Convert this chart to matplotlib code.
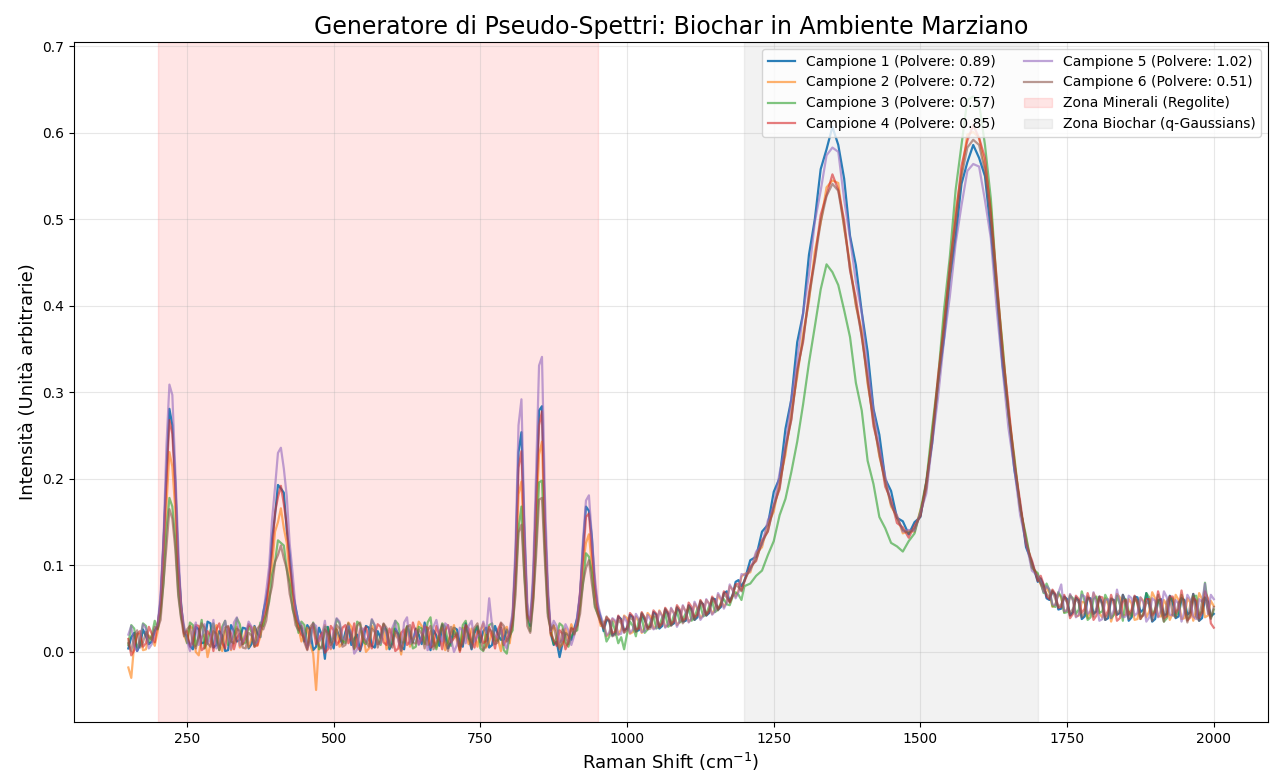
import matplotlib

matplotlib.use("Agg")
import matplotlib.pyplot as plt
import numpy as np

# sampling grid (cm^-1): 5 cm^-1 steps, 10 cm^-1 across the broad D/G bands
WAVENUMBERS = np.concatenate([
    np.arange(150, 1201, 5),
    np.arange(1210, 1691, 10),
    np.arange(1700, 2001, 5),
])

DUST = [0.89, 0.72, 0.57, 0.85, 1.02, 0.51]

CAMPIONE_1 = [
    # 150 - 1200, step 5
    0.004, 0.017, 0.022, 0.001, 0.008, 0.026, 0.018, 0.009, 0.012, 0.024,
    0.030, 0.060, 0.128, 0.208, 0.281, 0.262, 0.198, 0.104, 0.055, 0.022,
    0.018, 0.007, 0.003, 0.029, 0.026, 0.010, 0.011, 0.035, 0.033, 0.005,
    0.008, 0.024, 0.019, 0.001, 0.002, 0.031, 0.024, 0.012, 0.014, 0.028,
    0.027, 0.004, 0.009, 0.030, 0.021, 0.017, 0.046, 0.062, 0.081, 0.131,
    0.158, 0.193, 0.189, 0.184, 0.141, 0.113, 0.069, 0.052, 0.034, 0.027,
    0.012, 0.031, 0.025, 0.002, 0.006, 0.028, 0.019, -0.008, 0.029, 0.014,
    0.004, 0.026, 0.017, 0.009, 0.023, 0.033, 0.008, 0.015, 0.020, 0.001,
    0.013, 0.030, 0.028, 0.007, 0.005, 0.024, 0.016, 0.032, 0.024, 0.003,
    0.010, 0.027, 0.021, 0.006, 0.003, 0.029, 0.018, 0.011, 0.027, 0.020,
    0.009, 0.034, 0.015, 0.002, 0.025, 0.019, 0.007, 0.031, 0.019, 0.004,
    0.012, 0.028, 0.026, 0.010, 0.006, 0.033, 0.017, 0.003, 0.022, 0.029,
    0.011, 0.024, 0.028, 0.005, 0.008, 0.030, 0.020, 0.014, 0.014, 0.026,
    0.018, 0.041, 0.109, 0.231, 0.254, 0.139, 0.044, 0.030, 0.081, 0.175,
    0.279, 0.284, 0.151, 0.066, 0.021, 0.008, 0.012, -0.006, 0.010, 0.022,
    0.019, 0.014, 0.027, 0.039, 0.066, 0.122, 0.168, 0.163, 0.133, 0.075,
    0.051, 0.040, 0.024, 0.037, 0.036, 0.019, 0.022, 0.041, 0.038, 0.025,
    0.027, 0.043, 0.040, 0.024, 0.025, 0.044, 0.037, 0.028, 0.029, 0.046,
    0.043, 0.027, 0.030, 0.049, 0.044, 0.031, 0.033, 0.051, 0.047, 0.035,
    0.036, 0.054, 0.049, 0.037, 0.040, 0.058, 0.055, 0.042, 0.045, 0.062,
    0.061, 0.049, 0.052, 0.068, 0.070, 0.058, 0.066, 0.081, 0.083, 0.076,
    0.082,
    # 1210 - 1690, step 10
    0.106, 0.110, 0.139, 0.147, 0.185, 0.201, 0.258, 0.292, 0.358, 0.391,
    0.459, 0.500, 0.558, 0.581, 0.607, 0.586, 0.547, 0.481, 0.447, 0.393,
    0.347, 0.281, 0.251, 0.200, 0.186, 0.155, 0.151, 0.136, 0.150, 0.156,
    0.196, 0.241, 0.311, 0.361, 0.431, 0.480, 0.541, 0.566, 0.586, 0.571,
    0.550, 0.486, 0.415, 0.331, 0.276, 0.211, 0.170, 0.121, 0.104,
    # 1700 - 2000, step 5
    0.081, 0.085, 0.077, 0.062, 0.060, 0.070, 0.066, 0.049, 0.050, 0.064,
    0.061, 0.042, 0.046, 0.063, 0.059, 0.038, 0.041, 0.062, 0.062, 0.044,
    0.047, 0.064, 0.056, 0.037, 0.039, 0.061, 0.060, 0.043, 0.045, 0.066,
    0.058, 0.036, 0.040, 0.064, 0.063, 0.046, 0.049, 0.068, 0.055, 0.035,
    0.038, 0.059, 0.061, 0.042, 0.044, 0.065, 0.057, 0.039, 0.041, 0.062,
    0.060, 0.043, 0.046, 0.067, 0.054, 0.036, 0.039, 0.063, 0.058, 0.041,
    0.044,
]

CAMPIONE_2 = [
    -0.018, -0.030, 0.009, 0.020, 0.021, 0.002, 0.003, 0.019, 0.016, 0.007,
    0.024, 0.048, 0.109, 0.169, 0.231, 0.214, 0.164, 0.087, 0.049, 0.019,
    0.011, 0.030, 0.027, 0.000, -0.004, 0.017, 0.020, -0.006, 0.009, 0.026,
    0.031, 0.008, 0.001, 0.025, 0.022, 0.002, 0.013, 0.029, 0.005, 0.012,
    0.024, 0.005, 0.016, 0.029, 0.007, 0.018, 0.034, 0.044, 0.079, 0.099,
    0.139, 0.150, 0.166, 0.143, 0.126, 0.086, 0.066, 0.037, 0.028, 0.012,
    0.019, 0.028, 0.008, -0.002, -0.044, 0.011, 0.020, 0.031, 0.014, 0.003,
    0.022, 0.027, 0.006, 0.010, 0.018, 0.034, 0.029, 0.004, 0.009, 0.025,
    0.021, 0.000, 0.004, 0.030, 0.025, 0.009, 0.012, 0.032, 0.003, 0.010,
    0.027, 0.020, 0.015, -0.003, 0.022, 0.029, 0.006, 0.014, 0.019, 0.035,
    0.030, 0.011, 0.008, 0.024, 0.016, 0.005, 0.024, 0.028, 0.002, 0.013,
    0.021, 0.031, 0.013, 0.002, 0.028, 0.020, 0.009, 0.027, 0.018, 0.006,
    0.025, 0.033, 0.005, 0.012, 0.023, 0.018, 0.014, 0.001, 0.026, 0.029,
    0.010, 0.036, 0.088, 0.182, 0.197, 0.113, 0.039, 0.034, 0.063, 0.156,
    0.228, 0.243, 0.128, 0.058, 0.019, 0.030, 0.024, 0.005, 0.009, 0.027,
    0.016, 0.032, 0.021, 0.034, 0.053, 0.101, 0.126, 0.136, 0.100, 0.068,
    0.046, 0.030, 0.035, 0.018, 0.021, 0.038, 0.034, 0.020, 0.026, 0.042,
    0.039, 0.021, 0.023, 0.041, 0.036, 0.022, 0.028, 0.045, 0.041, 0.027,
    0.030, 0.048, 0.042, 0.029, 0.031, 0.050, 0.045, 0.031, 0.035, 0.053,
    0.047, 0.035, 0.038, 0.056, 0.050, 0.039, 0.043, 0.060, 0.056, 0.044,
    0.049, 0.066, 0.060, 0.052, 0.058, 0.076, 0.072, 0.064, 0.071, 0.087,
    0.090,
    0.092, 0.114, 0.121, 0.148, 0.162, 0.197, 0.228, 0.278, 0.318, 0.368,
    0.405, 0.463, 0.496, 0.537, 0.545, 0.542, 0.490, 0.449, 0.400, 0.372,
    0.310, 0.270, 0.226, 0.199, 0.168, 0.157, 0.137, 0.140, 0.139, 0.164,
    0.188, 0.254, 0.311, 0.382, 0.437, 0.509, 0.553, 0.598, 0.601, 0.594,
    0.561, 0.514, 0.423, 0.354, 0.278, 0.226, 0.166, 0.132, 0.098,
    0.089, 0.078, 0.070, 0.074, 0.068, 0.052, 0.055, 0.067, 0.063, 0.046,
    0.049, 0.066, 0.060, 0.041, 0.042, 0.058, 0.057, 0.039, 0.048, 0.068,
    0.061, 0.044, 0.040, 0.062, 0.055, 0.035, 0.046, 0.067, 0.063, 0.042,
    0.043, 0.061, 0.056, 0.037, 0.038, 0.063, 0.059, 0.040, 0.047, 0.069,
    0.062, 0.041, 0.041, 0.060, 0.054, 0.037, 0.045, 0.066, 0.060, 0.038,
    0.039, 0.062, 0.057, 0.036, 0.048, 0.068, 0.061, 0.040, 0.042, 0.059,
    0.053,
]

CAMPIONE_3 = [
    0.008, 0.031, 0.027, 0.004, 0.012, 0.033, 0.030, 0.011, 0.019, 0.036,
    0.026, 0.046, 0.080, 0.141, 0.178, 0.168, 0.129, 0.070, 0.040, 0.027,
    0.010, 0.034, 0.031, 0.007, 0.019, 0.037, 0.004, 0.013, 0.025, 0.033,
    0.014, 0.002, 0.029, 0.036, 0.008, 0.012, 0.020, 0.039, 0.032, 0.009,
    0.011, 0.030, 0.023, 0.006, 0.015, 0.034, 0.030, 0.045, 0.058, 0.089,
    0.104, 0.129, 0.126, 0.123, 0.095, 0.079, 0.049, 0.038, 0.022, 0.035,
    0.031, 0.008, 0.013, 0.034, 0.024, 0.003, 0.006, 0.029, 0.028, 0.011,
    0.017, 0.038, 0.033, 0.013, 0.010, 0.028, 0.021, 0.004, 0.035, 0.032,
    0.012, 0.009, 0.019, 0.037, 0.030, 0.014, 0.008, 0.027, 0.026, 0.005,
    0.015, 0.036, 0.032, 0.011, 0.011, 0.030, 0.023, 0.004, 0.006, 0.029,
    0.027, 0.009, 0.034, 0.040, 0.012, 0.003, 0.020, 0.033, 0.029, 0.010,
    0.007, 0.024, 0.018, 0.002, 0.031, 0.036, 0.016, 0.011, 0.025, 0.030,
    0.004, 0.001, 0.022, 0.031, 0.033, 0.013, 0.013, 0.028, 0.002, -0.002,
    0.019, 0.025, 0.081, 0.143, 0.168, 0.088, 0.040, 0.024, 0.061, 0.124,
    0.196, 0.198, 0.114, 0.045, 0.026, 0.009, 0.017, 0.033, 0.030, 0.011,
    0.006, 0.018, 0.023, 0.025, 0.054, 0.079, 0.114, 0.110, 0.092, 0.052,
    0.044, 0.037, 0.029, 0.012, 0.018, 0.035, 0.024, 0.010, 0.017, 0.003,
    0.021, 0.035, 0.030, 0.018, 0.037, 0.040, 0.022, 0.026, 0.035, 0.041,
    0.027, 0.030, 0.040, 0.044, 0.029, 0.032, 0.043, 0.047, 0.034, 0.037,
    0.045, 0.051, 0.036, 0.040, 0.050, 0.053, 0.041, 0.044, 0.053, 0.058,
    0.046, 0.049, 0.057, 0.061, 0.055, 0.054, 0.064, 0.069, 0.066, 0.060,
    0.076,
    0.079, 0.088, 0.094, 0.112, 0.128, 0.158, 0.177, 0.208, 0.243, 0.286,
    0.334, 0.376, 0.419, 0.448, 0.439, 0.424, 0.395, 0.364, 0.311, 0.279,
    0.221, 0.194, 0.156, 0.143, 0.126, 0.122, 0.116, 0.128, 0.137, 0.163,
    0.197, 0.259, 0.316, 0.394, 0.456, 0.534, 0.586, 0.638, 0.642, 0.634,
    0.586, 0.524, 0.426, 0.354, 0.276, 0.224, 0.166, 0.134, 0.097,
    0.091, 0.080, 0.068, 0.079, 0.071, 0.053, 0.052, 0.069, 0.064, 0.045,
    0.046, 0.065, 0.062, 0.044, 0.049, 0.070, 0.058, 0.037, 0.040, 0.061,
    0.064, 0.045, 0.047, 0.066, 0.059, 0.039, 0.043, 0.065, 0.055, 0.036,
    0.061, 0.047, 0.041, 0.062, 0.057, 0.038, 0.045, 0.068, 0.063, 0.044,
    0.048, 0.060, 0.054, 0.035, 0.039, 0.061, 0.062, 0.041, 0.046, 0.066,
    0.056, 0.037, 0.042, 0.064, 0.065, 0.043, 0.047, 0.080, 0.055, 0.039,
    0.049,
]

CAMPIONE_4 = [
    0.015, -0.004, 0.002, 0.021, 0.024, 0.006, 0.010, 0.029, 0.021, 0.011,
    0.033, 0.055, 0.124, 0.199, 0.268, 0.252, 0.190, 0.101, 0.052, 0.021,
    0.024, 0.006, 0.012, 0.031, 0.030, 0.002, 0.005, 0.024, 0.019, 0.001,
    0.026, 0.033, 0.010, 0.004, 0.029, 0.021, 0.003, 0.016, 0.021, 0.009,
    0.017, 0.032, 0.028, 0.006, 0.008, 0.027, 0.039, 0.051, 0.089, 0.117,
    0.161, 0.179, 0.192, 0.171, 0.147, 0.102, 0.076, 0.043, 0.029, 0.020,
    0.016, 0.003, 0.027, 0.029, 0.009, 0.016, 0.022, -0.001, 0.003, 0.030,
    0.025, 0.008, 0.013, 0.028, 0.031, 0.010, 0.017, 0.033, 0.006, 0.002,
    0.024, 0.029, 0.014, 0.004, 0.020, 0.032, 0.029, 0.011, 0.008, 0.027,
    0.018, 0.001, 0.004, 0.022, 0.026, 0.008, 0.012, 0.034, 0.022, 0.009,
    0.015, 0.029, 0.028, 0.005, 0.007, 0.030, 0.019, 0.003, 0.025, 0.031,
    0.011, 0.016, 0.020, 0.000, 0.016, 0.031, 0.027, 0.012, 0.005, 0.024,
    0.023, 0.010, 0.013, 0.029, 0.018, 0.004, 0.026, 0.033, 0.008, 0.015,
    0.021, 0.039, 0.101, 0.213, 0.232, 0.129, 0.043, 0.036, 0.071, 0.177,
    0.262, 0.278, 0.146, 0.064, 0.022, 0.013, 0.007, 0.025, 0.021, 0.003,
    0.012, 0.027, 0.026, 0.031, 0.070, 0.109, 0.156, 0.160, 0.118, 0.079,
    0.049, 0.034, 0.028, 0.040, 0.037, 0.021, 0.024, 0.042, 0.036, 0.023,
    0.029, 0.045, 0.041, 0.026, 0.027, 0.046, 0.039, 0.027, 0.031, 0.048,
    0.044, 0.029, 0.033, 0.051, 0.046, 0.032, 0.036, 0.054, 0.049, 0.036,
    0.039, 0.057, 0.052, 0.040, 0.043, 0.060, 0.054, 0.043, 0.048, 0.064,
    0.058, 0.050, 0.055, 0.070, 0.066, 0.057, 0.065, 0.078, 0.079, 0.071,
    0.081,
    0.099, 0.105, 0.129, 0.139, 0.170, 0.188, 0.237, 0.268, 0.327, 0.358,
    0.415, 0.454, 0.505, 0.528, 0.552, 0.534, 0.499, 0.441, 0.409, 0.364,
    0.319, 0.261, 0.234, 0.191, 0.176, 0.149, 0.144, 0.132, 0.146, 0.157,
    0.196, 0.246, 0.319, 0.374, 0.446, 0.501, 0.562, 0.591, 0.609, 0.594,
    0.571, 0.506, 0.432, 0.346, 0.286, 0.218, 0.174, 0.124, 0.106,
    0.082, 0.088, 0.078, 0.064, 0.061, 0.072, 0.067, 0.051, 0.052, 0.066,
    0.058, 0.039, 0.044, 0.065, 0.061, 0.045, 0.050, 0.068, 0.057, 0.037,
    0.042, 0.064, 0.063, 0.041, 0.048, 0.066, 0.054, 0.036, 0.039, 0.058,
    0.060, 0.043, 0.049, 0.065, 0.055, 0.038, 0.043, 0.061, 0.061, 0.042,
    0.046, 0.070, 0.058, 0.039, 0.041, 0.064, 0.064, 0.045, 0.050, 0.071,
    0.053, 0.036, 0.040, 0.063, 0.059, 0.039, 0.045, 0.070, 0.062, 0.033,
    0.028,
]

CAMPIONE_5 = [
    0.020, 0.030, 0.006, 0.001, 0.016, 0.032, 0.027, 0.004, 0.009, 0.025,
    0.031, 0.068, 0.131, 0.239, 0.309, 0.297, 0.210, 0.123, 0.051, 0.030,
    0.013, 0.001, 0.022, 0.034, 0.008, 0.016, 0.032, 0.009, 0.016, 0.037,
    0.004, 0.010, 0.025, 0.036, 0.018, 0.003, 0.034, 0.040, 0.007, 0.012,
    0.020, 0.035, 0.029, 0.009, 0.012, 0.030, 0.044, 0.070, 0.099, 0.153,
    0.190, 0.230, 0.236, 0.212, 0.180, 0.125, 0.091, 0.050, 0.036, 0.031,
    0.024, 0.005, 0.011, 0.033, 0.030, 0.012, 0.018, 0.036, 0.007, 0.004,
    0.026, 0.039, 0.035, 0.016, 0.014, 0.030, 0.022, -0.002, 0.003, 0.027,
    0.027, 0.011, 0.019, 0.038, 0.031, 0.009, 0.010, 0.029, 0.021, 0.006,
    0.028, 0.036, 0.013, 0.002, 0.034, 0.040, 0.009, 0.015, 0.024, 0.008,
    0.017, 0.031, 0.002, 0.007, 0.029, 0.037, 0.020, 0.012, 0.033, 0.030,
    0.015, 0.000, 0.008, 0.028, 0.025, 0.010, 0.030, 0.036, 0.012, 0.018,
    0.021, 0.035, 0.022, 0.062, 0.030, 0.019, 0.016, 0.027, 0.010, 0.004,
    0.027, 0.045, 0.124, 0.262, 0.292, 0.150, 0.057, 0.034, 0.094, 0.208,
    0.331, 0.341, 0.180, 0.077, 0.024, 0.036, 0.030, 0.011, 0.014, 0.032,
    0.025, 0.008, 0.019, 0.041, 0.069, 0.130, 0.175, 0.181, 0.133, 0.087,
    0.056, 0.042, 0.032, 0.019, 0.023, 0.039, 0.036, 0.020, 0.021, 0.041,
    0.034, 0.022, 0.026, 0.044, 0.038, 0.023, 0.024, 0.043, 0.037, 0.026,
    0.028, 0.047, 0.041, 0.028, 0.032, 0.051, 0.044, 0.029, 0.036, 0.054,
    0.046, 0.034, 0.039, 0.058, 0.051, 0.037, 0.042, 0.061, 0.055, 0.043,
    0.047, 0.068, 0.062, 0.050, 0.057, 0.078, 0.071, 0.062, 0.069, 0.090,
    0.089,
    0.094, 0.116, 0.124, 0.152, 0.168, 0.207, 0.238, 0.293, 0.337, 0.392,
    0.436, 0.497, 0.533, 0.574, 0.583, 0.578, 0.523, 0.478, 0.428, 0.392,
    0.330, 0.280, 0.236, 0.203, 0.171, 0.158, 0.139, 0.141, 0.140, 0.161,
    0.183, 0.241, 0.294, 0.359, 0.410, 0.472, 0.516, 0.556, 0.564, 0.561,
    0.522, 0.478, 0.396, 0.327, 0.259, 0.212, 0.158, 0.127, 0.094,
    0.088, 0.081, 0.069, 0.076, 0.072, 0.055, 0.054, 0.068, 0.078, 0.047,
    0.048, 0.067, 0.059, 0.040, 0.043, 0.066, 0.064, 0.044, 0.047, 0.069,
    0.056, 0.036, 0.038, 0.060, 0.061, 0.039, 0.049, 0.072, 0.055, 0.040,
    0.041, 0.065, 0.062, 0.042, 0.045, 0.063, 0.057, 0.035, 0.040, 0.062,
    0.059, 0.040, 0.048, 0.070, 0.063, 0.043, 0.042, 0.060, 0.056, 0.035,
    0.047, 0.066, 0.060, 0.041, 0.038, 0.061, 0.058, 0.079, 0.044, 0.066,
    0.061,
]

CAMPIONE_6 = [
    0.010, 0.001, 0.019, 0.025, 0.005, 0.011, 0.023, 0.017, 0.014, 0.029,
    0.027, 0.037, 0.081, 0.122, 0.165, 0.154, 0.119, 0.065, 0.038, 0.018,
    0.026, 0.030, 0.009, 0.004, 0.017, 0.033, 0.028, 0.010, 0.006, 0.024,
    0.021, 0.002, 0.015, 0.028, 0.030, 0.012, 0.010, 0.027, 0.024, 0.005,
    0.004, 0.022, 0.019, 0.008, 0.027, 0.031, 0.026, 0.036, 0.061, 0.076,
    0.104, 0.112, 0.123, 0.108, 0.096, 0.067, 0.052, 0.031, 0.025, 0.030,
    0.011, 0.002, 0.029, 0.033, 0.016, 0.007, 0.004, 0.026, 0.022, 0.008,
    0.013, 0.031, 0.027, 0.006, 0.008, 0.025, 0.019, 0.003, 0.030, 0.034,
    0.016, 0.012, 0.006, 0.027, 0.023, 0.005, 0.018, 0.033, 0.028, 0.009,
    0.005, 0.024, 0.020, 0.001, 0.014, 0.029, 0.031, 0.010, 0.010, 0.026,
    0.021, 0.004, 0.025, 0.030, 0.003, 0.011, 0.017, 0.032, 0.012, 0.001,
    0.029, 0.018, 0.022, 0.006, 0.009, 0.027, 0.020, 0.004, 0.028, 0.033,
    0.015, 0.002, 0.007, 0.026, 0.024, 0.009, 0.011, 0.034, 0.030, 0.012,
    0.017, 0.031, 0.066, 0.138, 0.147, 0.086, 0.030, 0.022, 0.057, 0.111,
    0.176, 0.178, 0.104, 0.041, 0.025, 0.031, 0.014, 0.003, 0.026, 0.019,
    0.009, 0.028, 0.020, 0.030, 0.044, 0.080, 0.097, 0.106, 0.079, 0.055,
    0.043, 0.034, 0.027, 0.041, 0.034, 0.018, 0.020, 0.037, 0.033, 0.022,
    0.025, 0.040, 0.037, 0.023, 0.029, 0.045, 0.040, 0.026, 0.027, 0.043,
    0.039, 0.028, 0.034, 0.050, 0.041, 0.030, 0.035, 0.052, 0.045, 0.033,
    0.038, 0.053, 0.047, 0.037, 0.044, 0.059, 0.051, 0.042, 0.047, 0.062,
    0.056, 0.048, 0.054, 0.067, 0.063, 0.058, 0.066, 0.077, 0.075, 0.070,
    0.083,
    0.096, 0.107, 0.126, 0.140, 0.167, 0.191, 0.234, 0.270, 0.323, 0.361,
    0.409, 0.452, 0.497, 0.527, 0.541, 0.533, 0.492, 0.443, 0.402, 0.365,
    0.313, 0.266, 0.228, 0.196, 0.171, 0.155, 0.141, 0.137, 0.143, 0.158,
    0.190, 0.247, 0.309, 0.372, 0.436, 0.496, 0.550, 0.583, 0.592, 0.586,
    0.556, 0.500, 0.419, 0.343, 0.275, 0.219, 0.167, 0.128, 0.101,
    0.085, 0.079, 0.074, 0.067, 0.063, 0.071, 0.061, 0.052, 0.055, 0.063,
    0.057, 0.044, 0.050, 0.062, 0.056, 0.040, 0.045, 0.064, 0.058, 0.041,
    0.051, 0.063, 0.054, 0.037, 0.044, 0.062, 0.059, 0.043, 0.049, 0.066,
    0.053, 0.038, 0.046, 0.063, 0.060, 0.041, 0.042, 0.058, 0.055, 0.036,
    0.050, 0.066, 0.047, 0.035, 0.058, 0.064, 0.043, 0.040, 0.057, 0.062,
    0.049, 0.034, 0.055, 0.067, 0.041, 0.036, 0.059, 0.063, 0.048, 0.038,
    0.052,
]

SPECTRA = [CAMPIONE_1, CAMPIONE_2, CAMPIONE_3, CAMPIONE_4, CAMPIONE_5, CAMPIONE_6]
COLORS = ["#1f77b4", "#ff7f0e", "#2ca02c", "#d62728", "#9467bd", "#8c564b"]

MINERAL_ZONE = (200, 950)
BIOCHAR_ZONE = (1200, 1700)


def main() -> None:
    for i, s in enumerate(SPECTRA):
        if len(s) != len(WAVENUMBERS):
            raise ValueError(f"Campione {i + 1}: {len(s)} values, expected {len(WAVENUMBERS)}")

    fig, ax = plt.subplots(figsize=(12.77, 7.78), dpi=100)
    fig.subplots_adjust(left=0.058, right=0.993, top=0.946, bottom=0.072)

    for i, (values, dust, color) in enumerate(zip(SPECTRA, DUST, COLORS)):
        ax.plot(
            WAVENUMBERS,
            values,
            color=color,
            linewidth=1.6,
            alpha=0.95 if i == 0 else 0.6,
            label=f"Campione {i + 1} (Polvere: {dust:.2f})",
        )

    # zones drawn after the lines so the legend lists them last; zorder keeps them behind
    ax.axvspan(*MINERAL_ZONE, color="red", alpha=0.1, zorder=0.5, label="Zona Minerali (Regolite)")
    ax.axvspan(*BIOCHAR_ZONE, color="gray", alpha=0.1, zorder=0.5, label="Zona Biochar (q-Gaussians)")

    ax.set_xlim(57.5, 2092.5)
    ax.set_ylim(-0.081, 0.705)
    ax.set_title("Generatore di Pseudo-Spettri: Biochar in Ambiente Marziano", fontsize=17)
    ax.set_xlabel("Raman Shift (cm$^{-1}$)", fontsize=13)
    ax.set_ylabel("Intensità (Unità arbitrarie)", fontsize=13)
    ax.grid(True, alpha=0.3)
    ax.legend(loc="upper right", ncol=2, fontsize=10)

    fig.savefig("out.png", dpi=100)
    plt.close(fig)


if __name__ == "__main__":
    main()
